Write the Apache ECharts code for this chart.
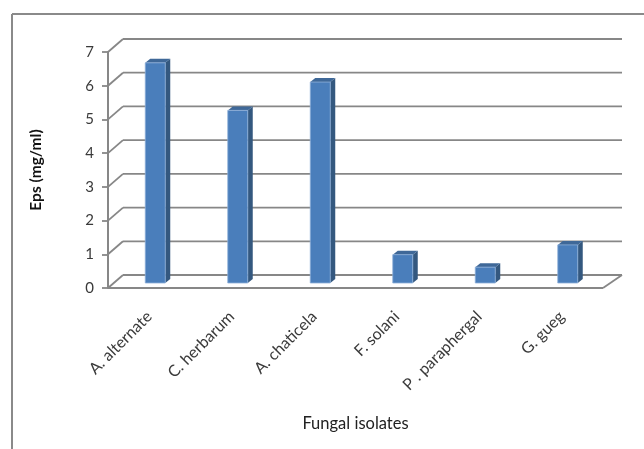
<!DOCTYPE html>
<html>
<head>
<meta charset="utf-8">
<script src="https://cdn.jsdelivr.net/npm/echarts@6/dist/echarts.min.js"></script>
<style>
  html, body { margin: 0; padding: 0; background: #fff; }
  #chart { width: 644px; height: 449px; }
</style>
</head>
<body>
<div id="chart"></div>
<script>
// Exopolysaccharide yield per fungal isolate
const isolates = ['A. alternate', 'C. herbarum', 'A. chaticela', 'F. solani', 'P . paraphergal', 'G. gueg'];
const epsValues = [6.53, 5.12, 5.96, 0.84, 0.47, 1.13];
const yTicks = [0, 1, 2, 3, 4, 5, 6, 7];

const FONT = 'Lato, Liberation Sans, Arial, sans-serif';
const GRID_COLOR = '#878787';
const LABEL_COLOR = '#3a3a3a';

// depth of the pseudo-3D box (back wall offset) and bar placement inside it
const WALL_DX = 15, WALL_DX_RIGHT = 19, WALL_DY = -13;
const BAR_DX = 6, BAR_DY = -5, BAR_W = 20, BAR_DEPTH_X = 5, BAR_DEPTH_Y = -4;

const chart = echarts.init(document.getElementById('chart'), null, { renderer: 'canvas' });

function wallItem(params, api) {
  const cs = params.coordSys;
  const v = api.value(1);
  const p = api.coord([0, v]);
  const y = p[1];
  const x0 = cs.x, x1 = cs.x + cs.width;
  const style = { stroke: GRID_COLOR, lineWidth: 1.8, fill: null };
  const children = [
    { type: 'line', shape: { x1: x0 + WALL_DX, y1: y + WALL_DY, x2: x1 + WALL_DX_RIGHT, y2: y + WALL_DY }, style },
    { type: 'line', shape: { x1: x0, y1: y, x2: x0 + WALL_DX, y2: y + WALL_DY }, style }
  ];
  if (v === 0) {
    children.push({ type: 'line', shape: { x1: x0, y1: y, x2: x1, y2: y }, style });
    children.push({ type: 'line', shape: { x1: x1, y1: y, x2: x1 + WALL_DX_RIGHT, y2: y + WALL_DY }, style });
  }
  return { type: 'group', children };
}

function barItem(params, api) {
  const idx = api.value(0);
  const base = api.coord([idx, 0]);
  const top = api.coord([idx, api.value(1)]);
  const fx = base[0] + BAR_DX - BAR_W / 2;
  const fy0 = top[1] + BAR_DY;
  const fy1 = base[1] + BAR_DY;
  const dx = BAR_DEPTH_X, dy = BAR_DEPTH_Y;
  return {
    type: 'group',
    children: [
      { type: 'polygon', shape: { points: [[fx + BAR_W, fy0], [fx + BAR_W + dx, fy0 + dy], [fx + BAR_W + dx, fy1 + dy], [fx + BAR_W, fy1]] },
        style: { fill: '#34587f' } },
      { type: 'polygon', shape: { points: [[fx, fy0], [fx + dx, fy0 + dy], [fx + BAR_W + dx, fy0 + dy], [fx + BAR_W, fy0]] },
        style: { fill: '#3f6898' } },
      { type: 'rect', shape: { x: fx, y: fy0, width: BAR_W, height: fy1 - fy0 },
        style: { fill: '#4a7ebb', stroke: '#8fb0d9', lineWidth: 0.8 } }
    ]
  };
}

chart.setOption({
  animation: false,
  backgroundColor: '#ffffff',
  grid: { left: 108, right: 41, top: 52, bottom: 161 },
  xAxis: {
    type: 'category',
    data: isolates,
    name: 'Fungal isolates',
    nameLocation: 'middle',
    nameGap: 127,
    nameTextStyle: { fontFamily: FONT, fontSize: 16.5, color: '#222' },
    axisLine: { show: false },
    axisTick: { show: false },
    axisLabel: { rotate: 45, margin: 26, fontFamily: FONT, fontSize: 16, color: LABEL_COLOR, interval: 0 },
    splitLine: { show: false }
  },
  yAxis: {
    type: 'value',
    min: 0,
    max: 7,
    interval: 1,
    name: 'Eps (mg/ml)',
    nameLocation: 'middle',
    nameGap: 64,
    nameTextStyle: { fontFamily: FONT, fontSize: 15.5, fontWeight: 'bold', color: '#111' },
    axisLine: { show: true, lineStyle: { color: GRID_COLOR, width: 2 } },
    axisTick: { show: true, length: 6, lineStyle: { color: GRID_COLOR, width: 1.8 } },
    axisLabel: { margin: 14, fontFamily: FONT, fontSize: 15, color: LABEL_COLOR,
      formatter: v => String(yTicks[yTicks.indexOf(v)]) },
    splitLine: { show: false }
  },
  series: [
    {
      type: 'custom',
      z: 1,
      silent: true,
      renderItem: wallItem,
      encode: { x: 0, y: 1 },
      data: yTicks.map(v => [0, v])
    },
    {
      type: 'custom',
      z: 3,
      renderItem: barItem,
      encode: { x: 0, y: 1 },
      data: epsValues.map((v, i) => [i, v])
    }
  ],
  graphic: [
    { type: 'line', shape: { x1: 12, y1: 14, x2: 644, y2: 14 }, style: { stroke: '#8a8a8a', lineWidth: 2 } },
    { type: 'line', shape: { x1: 12, y1: 14, x2: 12, y2: 449 }, style: { stroke: '#8a8a8a', lineWidth: 2 } }
  ]
});
</script>
</body>
</html>
